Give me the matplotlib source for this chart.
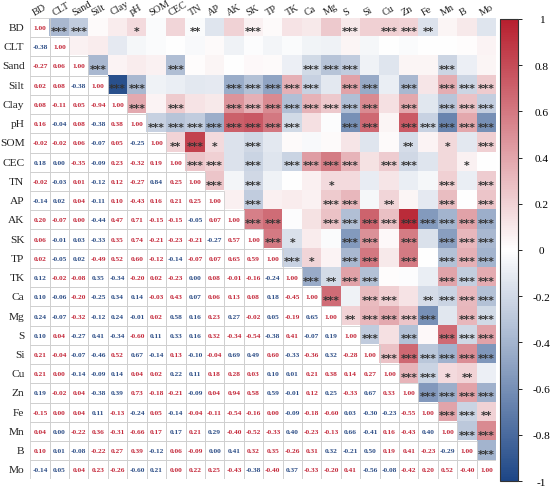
import numpy as np
import matplotlib
matplotlib.use("Agg")
import matplotlib.pyplot as plt
from matplotlib.colors import LinearSegmentedColormap
from matplotlib.patches import Rectangle

variables = ["BD", "CLT", "Sand", "Silt", "Clay", "pH", "SOM", "CEC", "TN", "AP",
             "AK", "SK", "TP", "TK", "Ca", "Mg", "S", "Si", "Cu", "Zn", "Fe",
             "Mn", "B", "Mo"]

# lower-triangle correlation values (row i, columns 0..i-1)
lower_rows = [
    [-0.38],
    [-0.27, 0.06],
    [0.02, 0.08, -0.38],
    [0.08, -0.11, 0.05, -0.94],
    [0.16, -0.04, 0.08, -0.38, 0.38],
    [-0.02, -0.02, 0.06, -0.07, 0.05, -0.25],
    [0.18, 0.00, -0.35, -0.09, 0.23, -0.32, 0.19],
    [-0.02, -0.03, 0.01, -0.12, 0.12, -0.27, 0.84, 0.25],
    [-0.14, 0.02, 0.04, -0.11, 0.10, -0.43, 0.16, 0.21, 0.25],
    [0.20, -0.07, 0.00, -0.44, 0.47, 0.71, -0.15, -0.15, -0.05, 0.07],
    [0.06, -0.01, 0.03, -0.33, 0.35, 0.74, -0.21, -0.23, -0.21, -0.27, 0.57],
    [0.02, -0.05, 0.02, -0.49, 0.52, 0.60, -0.12, -0.14, -0.07, 0.07, 0.65, 0.59],
    [0.12, -0.02, -0.08, 0.35, -0.34, -0.20, 0.02, -0.23, 0.00, 0.08, -0.01, -0.16, -0.24],
    [0.10, -0.06, -0.20, -0.25, 0.34, 0.14, -0.03, 0.43, 0.07, 0.06, 0.13, 0.08, 0.18, -0.45],
    [0.24, -0.07, -0.32, -0.12, 0.24, -0.01, 0.02, 0.58, 0.16, 0.23, 0.27, -0.02, 0.05, -0.19, 0.65],
    [0.10, 0.04, -0.27, 0.41, -0.34, -0.60, 0.11, 0.33, 0.16, 0.32, -0.34, -0.54, -0.38, 0.41, -0.07, 0.19],
    [0.21, -0.04, -0.07, -0.46, 0.52, 0.67, -0.14, 0.13, -0.10, -0.04, 0.69, 0.49, 0.60, -0.33, -0.36, 0.32, -0.28],
    [0.21, 0.00, -0.14, -0.09, 0.14, 0.04, 0.02, 0.22, 0.11, 0.18, 0.28, 0.03, 0.10, 0.01, 0.21, 0.38, 0.14, 0.27],
    [0.19, -0.02, 0.04, -0.38, 0.39, 0.73, -0.18, -0.21, -0.09, 0.04, 0.94, 0.58, 0.59, -0.01, 0.12, 0.25, -0.33, 0.67, 0.33],
    [-0.15, 0.00, 0.04, 0.11, -0.13, -0.24, 0.05, -0.14, -0.04, -0.11, -0.54, -0.16, 0.00, -0.09, -0.18, -0.60, 0.03, -0.30, -0.23, -0.55],
    [0.04, 0.00, -0.22, 0.36, -0.31, -0.66, 0.17, 0.17, 0.21, 0.29, -0.40, -0.52, -0.33, 0.40, -0.23, -0.13, 0.66, -0.41, 0.16, -0.43, 0.40],
    [0.10, 0.01, -0.08, -0.22, 0.27, 0.39, -0.12, 0.06, -0.09, 0.00, 0.41, 0.32, 0.35, -0.26, 0.31, 0.32, -0.21, 0.50, 0.19, 0.41, -0.23, -0.29],
    [-0.14, 0.05, 0.04, 0.23, -0.26, -0.60, 0.21, 0.00, 0.22, 0.25, -0.43, -0.38, -0.40, 0.37, -0.33, -0.20, 0.41, -0.56, -0.08, -0.42, 0.20, 0.52, -0.40],
]

# colour of each lower-triangle number as printed (r = red, b = blue)
text_colors = [
    "b",
    "rr",
    "rrb",
    "rrrr",
    "rbrbr",
    "rrrbrb",
    "bbrbrrr",
    "rbrbrrbr",
    "bbrbrrrrr",
    "rrrbrrrrbr",
    "rbbbrrrrrbr",
    "rbbrrrrbrrrr",
    "brrbbrrrbrrrb",
    "bbrbbbrrbrrrbr",
    "bbrbbbrbbrbrbrb",
    "brbbbrbbbrrrbrbb",
    "rrbbrbbrbrbbrbrbr",
    "rrbbbrrbbrrrbbrrrr",
    "brrbbrrrbrrrbbrbrbr",
    "rrrbrbrbrrrrrbrrbbbr",
    "rbrrrrrbrbrrrbrrbbrrb",
    "rbbrrrbrrbbrrrrbbbrrrb",
    "bbrrrbbrrrrbrbrrrbbrrrr",
]

# significance stars in the upper triangle (row i, columns i+1..n-1)
stars_rows = [
    "33001002003000030332000",
    "0000000000000000000000",
    "300030000003330000300",
    "33000033333033030333",
    "3030033333333030333",
    "333333330033033333",
    "23103000000020103",
    "3303033330330010",
    "303000100000303",
    "03000330200303",
    "3300333333333",
    "310033030333",
    "31033030333",
    "3233000333",
    "303302333",
    "23333033",
    "3030333",
    "333333",
    "33120",
    "3333",
    "332",
    "33",
    "3",
]

# upper-triangle cell whose shading differs from the printed value
upper_color_override = {("Ca", "Si"): 0.30}

cbar_ticks = [1, 0.8, 0.6, 0.4, 0.2, 0, -0.2, -0.4, -0.6, -0.8, -1]
cbar_labels = ["1", "0.8", "0.6", "0.4", "0.2", "0", "-0.2", "-0.4", "-0.6", "-0.8", "-1"]

n = len(variables)
M = np.eye(n)
for i, row in enumerate(lower_rows, start=1):
    for j, v in enumerate(row):
        M[i, j] = v
        M[j, i] = v
C = M.copy()
for (a, b), v in upper_color_override.items():
    i, j = variables.index(a), variables.index(b)
    C[min(i, j), max(i, j)] = v

cmap = LinearSegmentedColormap.from_list("rb", ["#1d4686", "#ffffff", "#b71f2e"])
RED = "#c4283a"
BLUE = "#2c4d86"
SERIF = "Liberation Serif"

fig = plt.figure(figsize=(5.5, 4.89), dpi=100)
ax = fig.add_axes([0.055, 0.0174, 0.847, 0.944])
mask = np.tril(np.ones((n, n), dtype=bool))
upper = np.ma.masked_where(mask, C)
im = ax.imshow(upper, cmap=cmap, vmin=-1, vmax=1, aspect="auto", interpolation="nearest")
ax.set_xlim(-0.5, n - 0.5)
ax.set_ylim(n - 0.5, -0.5)
ax.axis("off")

for i in range(n):
    for j in range(i + 1):
        ax.add_patch(Rectangle((j - 0.5, i - 0.5), 1, 1, fill=False,
                               edgecolor="#cfcfcf", lw=0.6))
        if i == j:
            txt, col = "1.00", RED
        else:
            v = M[i, j]
            txt = f"{v:.2f}"
            col = RED if text_colors[i - 1][j] == "r" else BLUE
        ax.text(j, i, txt, ha="center", va="center", fontsize=5.3,
                fontweight="bold", color=col, family=SERIF)

for i, s in enumerate(stars_rows):
    for k, ch in enumerate(s):
        j = i + 1 + k
        if ch != "0":
            ax.text(j, i + 0.32, "*" * int(ch), ha="center", va="baseline",
                    fontsize=7.8, fontweight="bold", color="#333333",
                    family="DejaVu Sans")

for i, name in enumerate(variables):
    ax.text(-0.8, i, name, ha="right", va="center", fontsize=8.2, family=SERIF,
            color="#222222")
    ax.text(i - 0.2, -0.58, name, ha="left", va="bottom", rotation=30,
            rotation_mode="anchor", fontsize=7.4, family=SERIF, color="#222222")

cax = fig.add_axes([0.909, 0.0143, 0.033, 0.945])
cb = fig.colorbar(im, cax=cax, ticks=cbar_ticks)
cb.ax.set_yticklabels(cbar_labels)
cb.ax.tick_params(length=3, width=0.6, pad=14, labelsize=8.2)
for lbl in cb.ax.get_yticklabels():
    lbl.set_ha("center")
    lbl.set_family(SERIF)
cb.outline.set_linewidth(0.8)
cb.outline.set_edgecolor("#333333")

fig.savefig("out.png", dpi=100)
